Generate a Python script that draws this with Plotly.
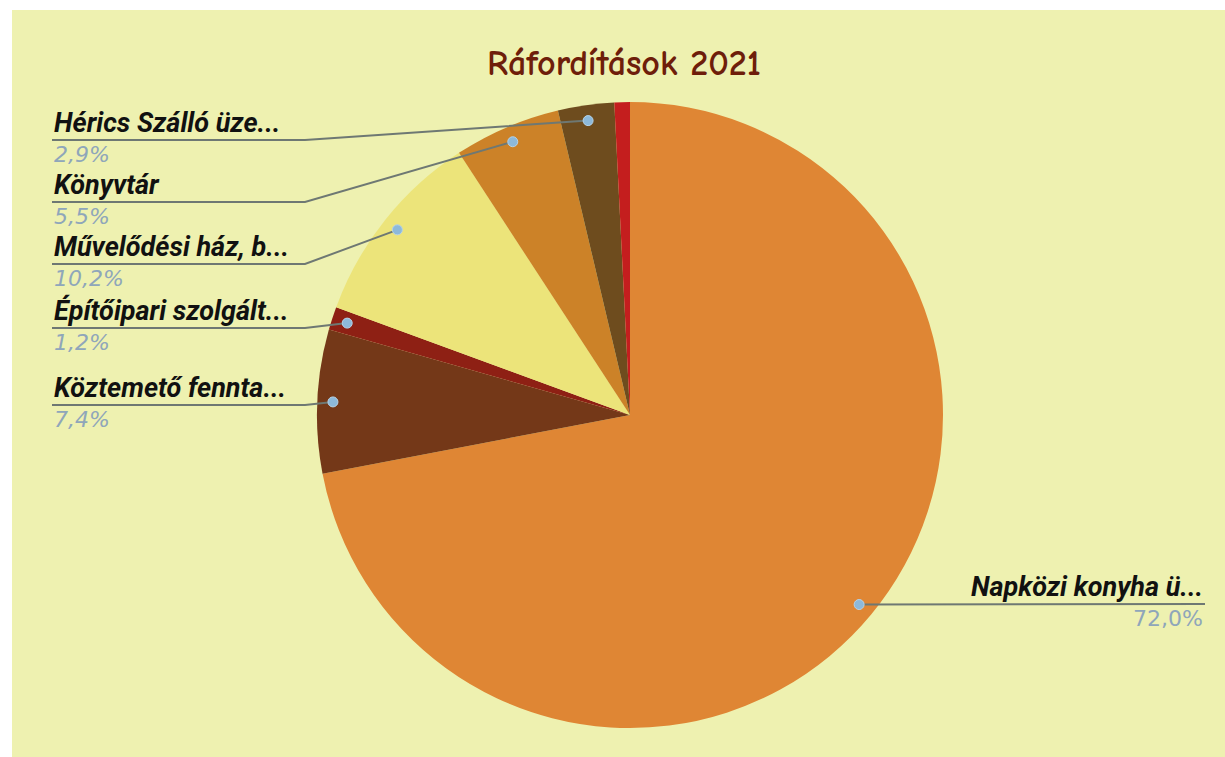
import math
import plotly.graph_objects as go

# ---- data ----
categories = ["Napközi konyha ü...", "Köztemető fennta...", "Építőipari szolgált...",
              "Művelődési ház, b...", "Könyvtár", "Hérics Szálló üze...", "Egyéb"]
values = [72.0, 7.4, 1.2, 10.2, 5.5, 2.9, 0.8]
labeled = [True, True, True, True, True, True, False]
title_text = "Ráfordítások 2021"

# ---- style / layout ----
W, H = 1225, 757
colors = ["#DF8634", "#743818", "#8E2014", "#ECE47A", "#CC8228", "#6E4C1E", "#C41E1E"]
panel_bg = "#EEF1B0"
CX, CY, R = 630, 415, 313          # pie centre / radius in pixels
DOT_FR = 0.95                      # dot position as fraction of radius
# label placement (pixels): side, underline y, text x
label_layout = {
    0: ("right", 604, 1205),
    1: ("left", 405, 52),
    2: ("left", 328, 52),
    3: ("left", 264, 52),
    4: ("left", 202, 52),
    5: ("left", 140, 52),
}
ELBOW_X = 305
line_col = "#6E7873"
name_font = dict(family="Roboto", size=27, color="#111111")
pct_font = dict(family="DejaVu Sans", size=22, color="#8FA6BA")


def px(x):
    return x / W


def py(y):
    return 1 - y / H


fig = go.Figure()
fig.add_trace(go.Pie(
    labels=categories, values=values, sort=False, direction="clockwise", rotation=0,
    marker=dict(colors=colors, line=dict(width=0)),
    textinfo="none", hoverinfo="label+percent", showlegend=False,
    domain=dict(x=[px(CX - R), px(CX + R)], y=[py(CY + R), py(CY - R)]),
))

shapes = [dict(type="rect", xref="paper", yref="paper", x0=px(12), x1=1.0, y0=0.0, y1=py(10),
               fillcolor=panel_bg, line=dict(width=0), layer="below")]
annotations = [dict(text=f"<b>{title_text}</b>", xref="paper", yref="paper", x=px(624), y=py(64),
                    xanchor="center", yanchor="middle", showarrow=False,
                    font=dict(family="Comic Sans MS, Comic Neue, Lato", size=36, color="#6E1E0A"))]

total = sum(values)
cum = 0.0
for i, v in enumerate(values):
    mid = (cum + v / 2) / total * 2 * math.pi
    cum += v
    if not labeled[i]:
        continue
    dx = CX + DOT_FR * R * math.sin(mid)
    dy = CY - DOT_FR * R * math.cos(mid)
    side, uy, tx = label_layout[i]
    pct = f"{v / total * 100:.1f}".replace(".", ",") + "%"
    if side == "left":
        path = f"M {px(tx)},{py(uy)} L {px(ELBOW_X)},{py(uy)} L {px(dx)},{py(dy)}"
        xanchor = "left"
        ptext = f"<i>{pct}</i>"
    else:
        path = f"M {px(dx)},{py(dy)} L {px(tx)},{py(uy)}"
        xanchor = "right"
        ptext = pct
    shapes.append(dict(type="path", xref="paper", yref="paper", path=path,
                       line=dict(color=line_col, width=2), layer="above"))
    shapes.append(dict(type="circle", xref="paper", yref="paper",
                       x0=px(dx - 5), x1=px(dx + 5), y0=py(dy + 5), y1=py(dy - 5),
                       fillcolor="#8DB9DA", line=dict(color="#B5D3E8", width=1), layer="above"))
    annotations.append(dict(text=f"<b><i>{categories[i]}</i></b>", xref="paper", yref="paper",
                            x=px(tx), y=py(uy + 1), xanchor=xanchor, yanchor="bottom",
                            showarrow=False, font=name_font))
    annotations.append(dict(text=ptext, xref="paper", yref="paper",
                            x=px(tx), y=py(uy), xanchor=xanchor, yanchor="top",
                            showarrow=False, font=pct_font))

fig.update_layout(width=W, height=H, margin=dict(l=0, r=0, t=0, b=0),
                  paper_bgcolor="white", plot_bgcolor="white",
                  shapes=shapes, annotations=annotations)
fig.write_html("out.html", config={"displayModeBar": False},
               post_script="document.body.style.margin='0';document.body.style.overflow='hidden';")
